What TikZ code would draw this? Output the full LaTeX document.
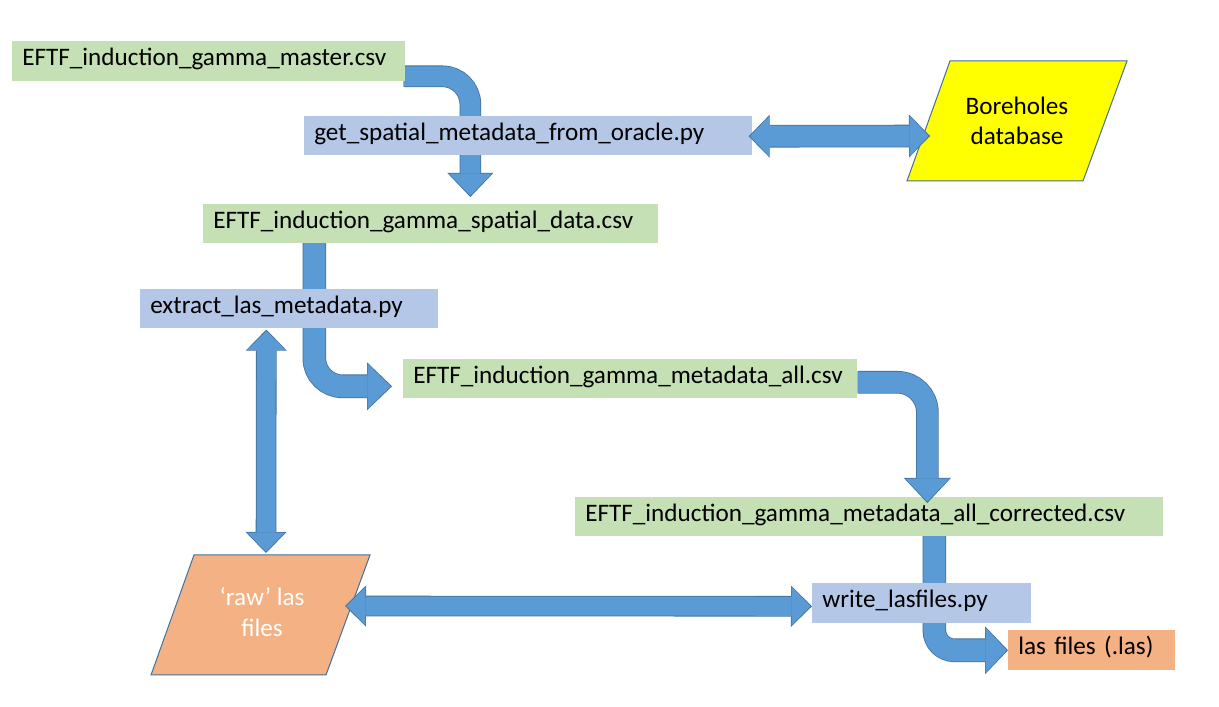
\documentclass[tikz,border=0pt]{standalone}
\usepackage{fontspec}
\setmainfont{Carlito}
\usetikzlibrary{arrows.meta,calc}
\definecolor{gr}{HTML}{C5E0B4}
\definecolor{bl}{HTML}{B4C7E7}
\definecolor{org}{HTML}{F4B183}
\definecolor{afill}{HTML}{5B9BD5}
\definecolor{aline}{HTML}{41719C}
\definecolor{yel}{HTML}{FFFF00}
\pgfdeclarelayer{bg}\pgfsetlayers{bg,main}
% #1 shaft, #2 head length, #3 head width (all in px), #4 path
\newcommand\fatsingle[4]{%
  \pgfmathsetmacro\fsw{(#1+1.6)*0.025}\pgfmathsetmacro\ftl{(#2+2)*0.025}\pgfmathsetmacro\ftw{(#3+3)*0.025}%
  \pgfmathsetmacro\isw{#1*0.025}\pgfmathsetmacro\itl{#2*0.025}\pgfmathsetmacro\itw{#3*0.025}%
  \draw[draw=aline, line width=\fsw cm, -{Triangle[length=\ftl cm,width=\ftw cm,line width=0pt]}] #4;
  \draw[draw=afill, line width=\isw cm, shorten >=0.035cm, -{Triangle[length=\itl cm,width=\itw cm,line width=0pt]}] #4;
}
\newcommand\fatdouble[4]{%
  \pgfmathsetmacro\fsw{(#1+1.6)*0.025}\pgfmathsetmacro\ftl{(#2+2)*0.025}\pgfmathsetmacro\ftw{(#3+3)*0.025}%
  \pgfmathsetmacro\isw{#1*0.025}\pgfmathsetmacro\itl{#2*0.025}\pgfmathsetmacro\itw{#3*0.025}%
  \draw[draw=aline, line width=\fsw cm, {Triangle[length=\ftl cm,width=\ftw cm,line width=0pt]}-{Triangle[length=\ftl cm,width=\ftw cm,line width=0pt]}] #4;
  \draw[draw=afill, line width=\isw cm, shorten >=0.035cm, shorten <=0.035cm, {Triangle[length=\itl cm,width=\itw cm,line width=0pt]}-{Triangle[length=\itl cm,width=\itw cm,line width=0pt]}] #4;
}
\tikzset{
  txt/.style={font=\fontsize{17.9}{21.8}\selectfont},
  box/.style={txt, anchor=north west, inner xsep=0.25cm, inner ysep=0pt, align=left,
    text height=0.9em, text depth=0.25em},
  para/.style={draw=aline, line width=0.025cm},
}
\begin{document}
\begin{tikzpicture}[x=0.025cm, y=-0.025cm]
\begin{pgfonlayer}{bg}
\fill[white] (0,0) rectangle (1219,707);
\end{pgfonlayer}
\useasboundingbox (0,0) rectangle (1219,707);

% boxes
\node[box, fill=gr, text width=9.325cm, minimum height=1cm] (master) at (12,41) {EFTF\_induction\_gamma\_master.csv};
\node[box, fill=bl, text width=10.7cm, minimum height=0.975cm] (getsp) at (304,116) {get\_spatial\_metadata\_from\_oracle.py};
\node[box, fill=gr, text width=10.875cm, minimum height=0.975cm] (spatial) at (203,204) {EFTF\_induction\_gamma\_spatial\_data.csv};
\node[box, fill=bl, text width=6.95cm, minimum height=0.975cm] (extract) at (140,289) {extract\_las\_metadata.py};
\node[box, fill=gr, text width=10.85cm, minimum height=0.975cm] (metaall) at (403,359) {EFTF\_induction\_gamma\_metadata\_all.csv};
\node[box, fill=gr, text width=14.2cm, minimum height=0.975cm] (corr) at (575,497) {EFTF\_induction\_gamma\_metadata\_all\_corrected.csv};
\node[box, fill=bl, text width=4.975cm, minimum height=1cm] (write) at (812,583) {write\_lasfiles.py};
\node[box, fill=org, text width=3.675cm, minimum height=1cm] (lasout) at (1008,630) {las files (.las)};

% parallelograms
\draw[para, fill=yel] (950,61) -- (1127,61) -- (1083,181) -- (907,181) -- cycle;
\node[txt, align=center] (bore) at (1017,121) {Boreholes\\database};
\draw[para, fill=org] (194,555) -- (370,555) -- (326,675) -- (151,675) -- cycle;
\node[txt, align=center, text=white] (raw) at (262,612) {‘raw’ las\\files};

\coordinate (boreIn) at (930,136);
\coordinate (rawTop) at (266,553);
\coordinate (rawR) at (345,606);

% arrows behind boxes
\begin{pgfonlayer}{bg}
\fatsingle{20}{22}{43}{[rounded corners=0.7cm] ($(master.east)+(-2,15)$) -| ($(spatial.north)+(39.5,-7)$)}
\fatsingle{22}{23}{45}{[rounded corners=0.7cm] ($(spatial.south)+(-116.5,-2)$) |- ($(metaall.west)+(-11,7.5)$)}
\fatsingle{22}{21}{45}{[rounded corners=0.5cm] ($(corr.south)+(65,-2)$) |- (lasout.west)}
\end{pgfonlayer}

% arrows on top
\fatdouble{21}{19}{40}{($(getsp.east)+(-4,0.5)$) -- (boreIn)}
\fatdouble{19}{19}{38}{($(extract.south)+(-23,1)$) -- (rawTop)}
\fatsingle{21}{23}{44}{[rounded corners=0.75cm] ($(metaall.east)+(0,3.5)$) -| ($(corr.north)+(58,6)$)}
\fatdouble{19}{19}{38}{(rawR) -- ($(write.west)+(0,3)$)}
\end{tikzpicture}
\end{document}
